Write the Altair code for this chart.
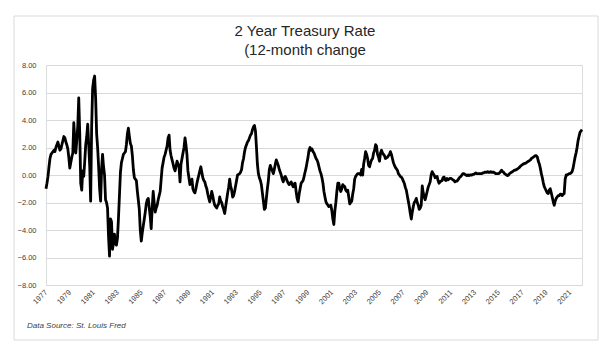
import altair as alt
import pandas as pd

# 12-month change of the 2-year Treasury rate, monthly
y1977 = [-1.0, -0.6, -0.1, 0.6, 1.2, 1.5, 1.6]  # Jun-Dec
y1978 = [1.7, 1.8, 1.7, 2.0, 2.2, 2.4, 2.1, 1.8, 1.9, 2.2, 2.5, 2.8]
y1979 = [2.7, 2.4, 2.2, 1.9, 1.3, 0.5, 0.9, 1.3, 1.6, 3.8, 2.6, 1.6]
y1980 = [2.5, 3.6, 5.6, 3.0, -0.6, -1.1, 0.3, -0.1, 1.0, 2.2, 2.8, 3.7]
y1981 = [2.2, 0.6, -1.9, 3.5, 6.3, 6.9, 7.2, 5.6, 3.0, 2.0, 0.6, -1.0]
y1982 = [-1.9, 0.5, 1.5, 0.6, 0.0, -1.8, -2.0, -2.4, -4.5, -5.9, -3.2, -3.4]
y1983 = [-5.4, -4.9, -4.3, -5.0, -5.1, -4.6, -3.2, -1.5, 0.2, 0.9, 1.2, 1.5]
y1984 = [1.6, 1.7, 2.2, 3.0, 3.4, 2.8, 2.3, 2.1, 1.4, 0.4, -0.2, -0.3]
y1985 = [-0.4, -1.2, -1.8, -2.5, -4.0, -4.8, -4.2, -3.7, -3.2, -2.7, -2.1, -1.8]
y1986 = [-1.7, -2.4, -3.0, -3.9, -2.4, -1.2, -2.0, -2.7, -2.4, -2.2, -1.8, -1.5]
y1987 = [-1.2, -0.3, 0.5, 0.9, 1.3, 1.5, 1.8, 2.1, 2.7, 2.9, 1.8, 1.4]
y1988 = [1.1, 0.8, 0.5, 0.3, 0.6, 1.0, 0.8, 0.6, -0.5, 0.8, 1.2, 1.6]
y1989 = [2.0, 2.7, 2.2, 1.5, 0.3, -0.2, -0.7, -0.5, -0.3, -1.0, -1.2, -1.3]
y1990 = [-1.0, -0.6, -0.3, 0.0, 0.3, 0.6, 0.2, -0.2, -0.4, -0.5, -0.8, -1.0]
y1991 = [-1.4, -1.7, -1.95, -1.6, -1.2, -1.5, -1.9, -2.2, -2.3, -2.4, -2.2, -2.1]
y1992 = [-1.6, -1.9, -2.0, -2.3, -2.5, -2.8, -2.3, -1.8, -1.3, -0.9, -0.3, -0.8]
y1993 = [-1.1, -1.6, -1.5, -1.2, -0.8, -0.4, 0.0, 0.05, 0.1, 0.2, 0.4, 0.9]
y1994 = [1.2, 1.7, 2.0, 2.2, 2.4, 2.5, 2.7, 2.9, 3.0, 3.3, 3.5, 3.6]
y1995 = [3.2, 2.0, 0.8, 0.1, -0.2, -0.4, -0.7, -1.3, -1.9, -2.5, -2.4, -1.7]
y1996 = [-1.0, -0.4, 0.4, 0.7, 0.5, 0.3, 0.1, 0.4, 0.8, 1.1, 0.9, 0.7]
y1997 = [0.4, 0.2, 0.0, -0.3, -0.5, -0.2, -0.1, -0.25, -0.45, -0.6, -0.7, -0.6]
y1998 = [-0.5, -0.7, -0.85, -0.65, -0.6, -1.2, -1.7, -1.95, -1.4, -1.0, -0.6, -0.5]
y1999 = [-0.4, -0.1, 0.2, 0.5, 0.9, 1.3, 1.8, 2.0, 1.8, 1.9, 1.7, 1.6]
y2000 = [1.4, 1.2, 1.1, 0.9, 0.6, 0.3, 0.1, -0.2, -0.6, -1.2, -1.6, -1.95]
y2001 = [-2.1, -2.2, -2.3, -2.25, -2.2, -2.6, -3.2, -3.6, -2.6, -2.0, -1.2, -0.6]
y2002 = [-0.6, -1.0, -1.2, -1.0, -0.7, -0.8, -0.85, -1.1, -1.2, -1.1, -1.6, -2.1]
y2003 = [-2.0, -1.9, -1.4, -1.0, -0.3, -0.1, 0.0, 0.1, 0.1, 0.1, 0.0, 0.4]
y2004 = [0.0, 0.8, 1.2, 1.7, 1.5, 1.2, 0.7, 0.6, 0.9, 1.1, 1.2, 1.6]
y2005 = [1.8, 2.2, 2.1, 1.5, 1.3, 1.0, 1.6, 1.8, 1.6, 1.5, 1.4, 1.2]
y2006 = [1.25, 1.3, 1.4, 1.5, 1.7, 1.5, 1.2, 0.9, 0.7, 0.55, 0.45, 0.35]
y2007 = [0.1, 0.0, -0.1, -0.15, -0.25, -0.45, -0.6, -0.9, -1.1, -1.5, -1.9, -2.3]
y2008 = [-2.8, -3.2, -2.7, -2.3, -2.0, -1.9, -1.7, -2.0, -2.2, -2.5, -2.4, -2.2]
y2009 = [-0.8, -1.3, -1.6, -1.8, -1.5, -1.2, -0.9, -0.7, -0.5, 0.0, 0.25, 0.1]
y2010 = [0.0, -0.2, -0.15, -0.1, -0.4, -0.6, -0.5, -0.45, -0.4, -0.2, -0.15, -0.35]
y2011 = [-0.4, -0.25, -0.35, -0.3, -0.25, -0.25, -0.3, -0.35, -0.4, -0.5, -0.45, -0.45]
y2012 = [-0.35, -0.25, -0.15, -0.1, 0.0, 0.1, 0.1, 0.05, 0.0, -0.05, 0.0, -0.05]
y2013 = [0.0, 0.0, 0.0, 0.05, 0.05, 0.1, 0.15, 0.1, 0.1, 0.1, 0.1, 0.1]
y2014 = [0.1, 0.15, 0.15, 0.2, 0.2, 0.2, 0.25, 0.2, 0.2, 0.25, 0.2, 0.2]
y2015 = [0.2, 0.15, 0.1, 0.1, 0.1, 0.1, 0.15, 0.25, 0.35, 0.25, 0.2, 0.1]
y2016 = [0.05, 0.0, -0.05, 0.0, 0.1, 0.15, 0.2, 0.25, 0.3, 0.35, 0.35, 0.4]
y2017 = [0.45, 0.5, 0.55, 0.65, 0.7, 0.75, 0.8, 0.85, 0.85, 0.9, 0.95, 1.0]
y2018 = [1.05, 1.1, 1.2, 1.25, 1.3, 1.35, 1.4, 1.4, 1.3, 1.0, 0.8, 0.5]
y2019 = [0.1, -0.2, -0.55, -0.85, -1.0, -1.15, -1.3, -1.35, -1.1, -1.0, -1.3, -1.6]
y2020 = [-1.95, -2.2, -1.9, -1.7, -1.6, -1.5, -1.5, -1.4, -1.4, -1.5, -1.4, -1.35]
y2021 = [-0.3, 0.0, 0.0, 0.05, 0.1, 0.1, 0.15, 0.25, 0.5, 0.9, 1.3, 1.6]
y2022 = [2.0, 2.5, 2.8, 3.1, 3.2, 3.3]  # Jan-Jun

years = {
    1977: y1977, 1978: y1978, 1979: y1979, 1980: y1980, 1981: y1981, 1982: y1982,
    1983: y1983, 1984: y1984, 1985: y1985, 1986: y1986, 1987: y1987, 1988: y1988,
    1989: y1989, 1990: y1990, 1991: y1991, 1992: y1992, 1993: y1993, 1994: y1994,
    1995: y1995, 1996: y1996, 1997: y1997, 1998: y1998, 1999: y1999, 2000: y2000,
    2001: y2001, 2002: y2002, 2003: y2003, 2004: y2004, 2005: y2005, 2006: y2006,
    2007: y2007, 2008: y2008, 2009: y2009, 2010: y2010, 2011: y2011, 2012: y2012,
    2013: y2013, 2014: y2014, 2015: y2015, 2016: y2016, 2017: y2017, 2018: y2018,
    2019: y2019, 2020: y2020, 2021: y2021, 2022: y2022,
}

y_ticks = [-8, -6, -4, -2, 0, 2, 4, 6, 8]
x_label_years = list(range(1977, 2022, 2))

title_lines = ["2 Year Treasury Rate", "(12-month change"]
source_note = ["Data Source: St. Louis Fred"]

rows = []
for yr, vals in years.items():
    start = 6 if yr == 1977 else 1
    for i, v in enumerate(vals):
        rows.append({"date": f"{yr}-{start + i:02d}-01", "change": v})
df = pd.DataFrame(rows)

FONT = "Liberation Sans"
tick_dates = [f"{y}-06-01" for y in x_label_years]

line = alt.Chart(df).mark_line(
    color="#000000", strokeWidth=2.8, strokeJoin="round"
).encode(
    x=alt.X(
        "date:T",
        scale=alt.Scale(domain=["1977-06-01", "2022-06-01"]),
        axis=alt.Axis(
            values=tick_dates, format="%Y", labelAngle=-45, labelAlign="right",
            labelBaseline="middle", labelPadding=6, grid=False, domain=False,
            ticks=False, title=None, labelFontSize=7.5, labelColor="#404040",
            labelFont=FONT, labelOverlap=False,
        ),
    ),
    y=alt.Y(
        "change:Q",
        scale=alt.Scale(domain=[-8, 8], nice=False),
        axis=alt.Axis(
            values=y_ticks, format=".2f", grid=True, gridColor="#d9d9d9",
            gridWidth=1, domain=False, ticks=False, title=None,
            labelFontSize=7.5, labelColor="#404040", labelFont=FONT, labelPadding=10,
        ),
    ),
)

note = alt.Chart(pd.DataFrame({"t": source_note})).mark_text(
    align="left", baseline="middle", font=FONT, fontSize=8, fontStyle="italic",
    color="#404040",
).encode(text="t:N", x=alt.value(-19), y=alt.value(261))

title1 = alt.Chart(pd.DataFrame({"t": title_lines[:1]})).mark_text(
    align="center", baseline="middle", font=FONT, fontSize=15, color="#262626",
).encode(text="t:N", x=alt.value(259), y=alt.value(-34))

title2 = alt.Chart(pd.DataFrame({"t": title_lines[1:]})).mark_text(
    align="center", baseline="middle", font=FONT, fontSize=15, color="#262626",
).encode(text="t:N", x=alt.value(259), y=alt.value(-15))

frame = alt.Chart(pd.DataFrame({"a": [0]})).mark_rect(
    fill="transparent", stroke="#d9d9d9", strokeWidth=1,
).encode(x=alt.value(-32), x2=alt.value(552), y=alt.value(-49), y2=alt.value(275))

chart = alt.layer(frame, line, note, title1, title2).properties(
    width=536,
    height=220,
    padding={"left": 46, "top": 65, "right": 32, "bottom": 68},
    autosize=alt.AutoSizeParams(type="none"),
).configure_view(stroke=None).configure(background="white")

chart.save("out.html", embed_options={"renderer": "svg", "actions": False})
